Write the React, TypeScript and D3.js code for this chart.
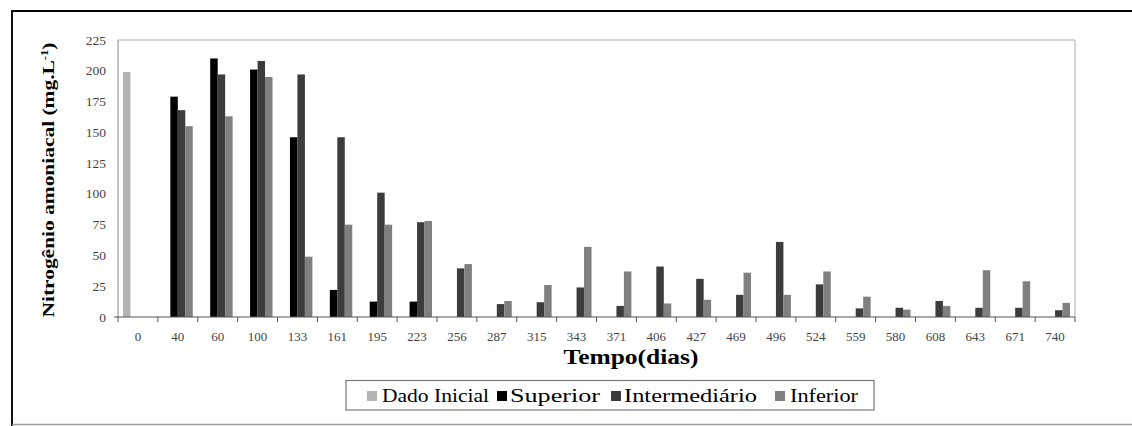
import React from "react";
import * as d3 from "d3";

const categories: string[] = ["0","40","60","100","133","161","195","223","256","287","315","343","371","406","427","469","496","524","559","580","608","643","671","740"];
const seriesNames: string[] = ["Dado Inicial", "Superior", "Intermediário", "Inferior"];
const dadoInicial: number[] = [199,0,0,0,0,0,0,0,0,0,0,0,0,0,0,0,0,0,0,0,0,0,0,0];
const superior: number[] = [0,179,210,201,146,22,12.5,12.5,0,0,0,0,0,0,0,0,0,0,0,0,0,0,0,0];
const intermediario: number[] = [0,168,197,208,197,146,101,77,39.5,10.5,12,24,9,41,31,18,61,26.5,7,7.5,13,7.5,7.5,5.5];
const inferior: number[] = [0,155,163,195,49,75,75,78,43,13,26,57,37,11,14,36,18,37,16.5,6,9,38,29,11.5];
const yTicks: number[] = [0,25,50,75,100,125,150,175,200,225];
const colors: string[] = ["#b4b4b4", "#000000", "#3c3c3c", "#808080"];

const W = 1132, H = 426;
const plot = { left: 118, right: 1075, top: 40, bottom: 317 };
const FF = "Liberation Serif, Times New Roman, serif";

export default function App() {
  const allSeries = [dadoInicial, superior, intermediario, inferior];
  const x = d3.scaleBand<string>().domain(categories).range([plot.left, plot.right]).padding(0);
  const xi = d3.scaleBand<string>().domain(seriesNames).range([0, x.bandwidth()]).paddingInner(0).paddingOuter(0.667);
  const y = d3.scaleLinear().domain([0, 225]).range([plot.bottom, plot.top]);

  const legendItems = [
    { name: seriesNames[0], mx: 367, tx: 382, tw: 107 },
    { name: seriesNames[1], mx: 497, tx: 510, tw: 90 },
    { name: seriesNames[2], mx: 611, tx: 624, tw: 133 },
    { name: seriesNames[3], mx: 775, tx: 790, tw: 68 },
  ];

  return (
    <div style={{ position: "absolute", left: 0, top: 0 }}>
      <svg width={W} height={H} fontFamily={FF} style={{ display: "block" }}>
        <rect x={0} y={0} width={W} height={H} fill="#fff" />
        {/* outer frame */}
        <line x1={12} x2={W} y1={11} y2={11} stroke="#000" strokeWidth={2} />
        <line x1={12} x2={12} y1={10} y2={H} stroke="#111" strokeWidth={2} />
        <line x1={12} x2={W} y1={424.5} y2={424.5} stroke="#9a9a9a" strokeWidth={1.5} />
        {/* plot frame */}
        <line x1={plot.left} x2={plot.right} y1={plot.top} y2={plot.top} stroke="#c8c8c8" strokeWidth={1.5} />
        <line x1={plot.right} x2={plot.right} y1={plot.top} y2={plot.bottom} stroke="#c8c8c8" strokeWidth={1.5} />
        <line x1={plot.left} x2={plot.left} y1={plot.top} y2={plot.bottom} stroke="#9a9a9a" strokeWidth={1.2} />
        {/* bars */}
        {allSeries.map((vals, si) =>
          vals.map((v, ci) =>
            v > 0 ? (
              <rect
                key={`${si}-${ci}`}
                x={(x(categories[ci]) as number) + (xi(seriesNames[si]) as number)}
                y={y(v)}
                width={xi.bandwidth()}
                height={y(0) - y(v)}
                fill={colors[si]}
              />
            ) : null
          )
        )}
        {/* x axis */}
        <line x1={plot.left} x2={plot.right} y1={plot.bottom} y2={plot.bottom} stroke="#555" strokeWidth={1.2} />
        {categories.map((c, i) => (
          <line key={"t" + i} x1={x(c) as number} x2={x(c) as number} y1={plot.bottom} y2={plot.bottom + 5} stroke="#555" />
        ))}
        <line x1={plot.right} x2={plot.right} y1={plot.bottom} y2={plot.bottom + 5} stroke="#555" />
        <line x1={plot.left - 4} x2={plot.left} y1={plot.bottom} y2={plot.bottom} stroke="#555" />
        {categories.map((c, i) => (
          <text key={"l" + i} x={(x(c) as number) + x.bandwidth() / 2} y={341} textAnchor="middle" fontSize={13} fontFamily={FF} fill="#444">
            {c}
          </text>
        ))}
        {/* y ticks */}
        {yTicks.map((t) => (
          <text key={"y" + t} x={106} y={y(t) + 4.5} textAnchor="end" fontSize={13.5} fontFamily={FF} fill="#444">
            {t}
          </text>
        ))}
        {/* titles */}
        <text x={631} y={364} textAnchor="middle" fontSize={20} fontWeight="bold" fontFamily={FF} fill="#000" textLength={135} lengthAdjust="spacingAndGlyphs">
          Tempo(dias)
        </text>
        <text transform="translate(54,180) rotate(-90)" textAnchor="middle" fontSize={17} fontWeight="bold" fontFamily={FF} fill="#000" textLength={275} lengthAdjust="spacingAndGlyphs">
          Nitrogênio amoniacal (mg.L<tspan fontSize={10} dy={-6}>-1</tspan><tspan dy={6}>)</tspan>
        </text>
        {/* legend */}
        <rect x={346} y={380.5} width={528} height={29.5} fill="#fff" stroke="#7a7a7a" strokeWidth={1.2} />
        {legendItems.map((it, i) => (
          <g key={"lg" + i}>
            <rect x={it.mx} y={391} width={10} height={10} fill={colors[i]} />
            <text x={it.tx} y={402} fontSize={18} fontFamily={FF} fill="#000" textLength={it.tw} lengthAdjust="spacingAndGlyphs">
              {it.name}
            </text>
          </g>
        ))}
      </svg>
    </div>
  );
}
